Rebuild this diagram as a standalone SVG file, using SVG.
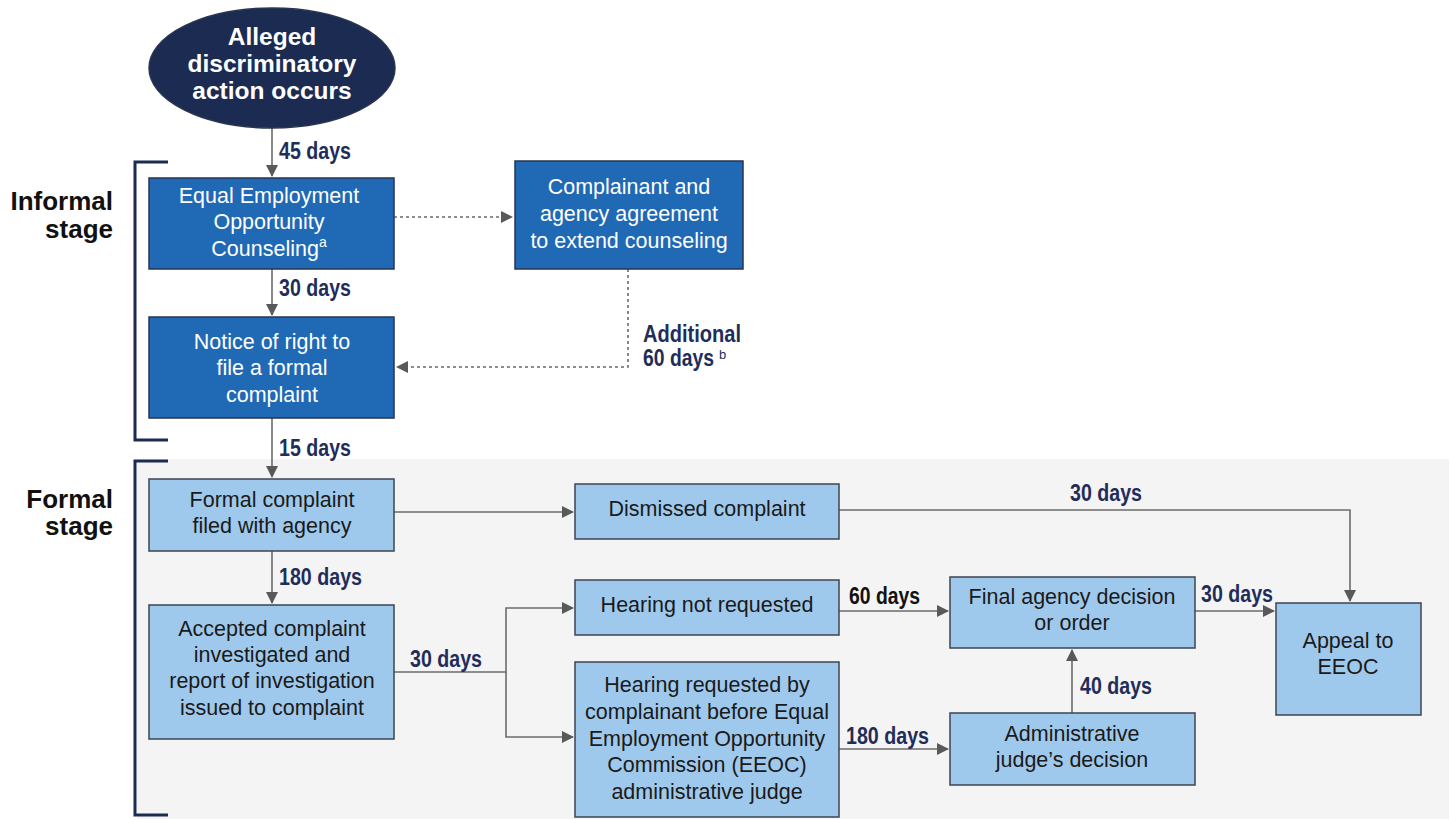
<svg xmlns="http://www.w3.org/2000/svg" width="1449" height="819" viewBox="0 0 1449 819">
<defs>
<marker id="ah" markerWidth="12" markerHeight="12" refX="11" refY="6" orient="auto" markerUnits="userSpaceOnUse">
<path d="M0,0 L12,6 L0,12 Z" fill="#595959"/>
</marker>
<style>
.dk{fill:#1f69b5;stroke:#2a3550;stroke-width:1.5}
.lt{fill:#9fc9ec;stroke:#3c4450;stroke-width:1.5}
.wt{font-family:"Liberation Sans",Arial,sans-serif;font-size:21.5px;fill:#fff;text-anchor:middle}
.bt{font-family:"Liberation Sans",Arial,sans-serif;font-size:21.5px;fill:#1a1a1a;text-anchor:middle}
.lb{font-family:"Liberation Sans Narrow","Liberation Sans",Arial,sans-serif;font-weight:bold;font-size:23px;fill:#1f2d5a}
.st{font-family:"Liberation Sans",Arial,sans-serif;font-weight:bold;font-size:26px;fill:#111;text-anchor:end}
.el{font-family:"Liberation Sans",Arial,sans-serif;font-weight:bold;font-size:24.5px;fill:#fff;text-anchor:middle}
.ln{fill:none;stroke:#6b6b6b;stroke-width:1.6}
.dt{fill:none;stroke:#6b6b6b;stroke-width:1.6;stroke-dasharray:3,3}
.br{fill:none;stroke:#1b2b52;stroke-width:3}
</style>
</defs>
<rect x="137" y="459" width="1312" height="360" fill="#f4f4f4"/>
<g id="brackets">
<path class="br" d="M168,162 H135 V440 H168"/>
<path class="br" d="M168,461 H135 V815 H168"/>
<text class="st" x="113" y="210">Informal</text>
<text class="st" x="113" y="238">stage</text>
<text class="st" x="113" y="508">Formal</text>
<text class="st" x="113" y="535">stage</text>
</g>
<g id="connectors">
<path class="ln" d="M272,128 V176" marker-end="url(#ah)"/>
<path class="ln" d="M272,269 V315" marker-end="url(#ah)"/>
<path class="ln" d="M272,418 V477" marker-end="url(#ah)"/>
<path class="ln" d="M272,551 V603" marker-end="url(#ah)"/>
<path class="dt" d="M394,217 H512" marker-end="url(#ah)"/>
<path class="dt" d="M628,269 V367 H397" marker-end="url(#ah)"/>
<path class="ln" d="M394,512 H573" marker-end="url(#ah)"/>
<path class="ln" d="M394,672 H506 V608 H573" marker-end="url(#ah)"/>
<path class="ln" d="M506,672 V737 H573" marker-end="url(#ah)"/>
<path class="ln" d="M839,510 H1350 V601" marker-end="url(#ah)"/>
<path class="ln" d="M839,611 H948" marker-end="url(#ah)"/>
<path class="ln" d="M839,749 H948" marker-end="url(#ah)"/>
<path class="ln" d="M1072,713 V650" marker-end="url(#ah)"/>
<path class="ln" d="M1195,611 H1274" marker-end="url(#ah)"/>
<text class="lb" x="279" y="159" textLength="72" lengthAdjust="spacingAndGlyphs">45 days</text>
<text class="lb" x="279" y="296" textLength="72" lengthAdjust="spacingAndGlyphs">30 days</text>
<text class="lb" x="279" y="456" textLength="72" lengthAdjust="spacingAndGlyphs">15 days</text>
<text class="lb" x="279" y="585" textLength="83" lengthAdjust="spacingAndGlyphs">180 days</text>
<text class="lb" x="410" y="667" textLength="72" lengthAdjust="spacingAndGlyphs">30 days</text>
<text class="lb" x="849" y="604" textLength="71" lengthAdjust="spacingAndGlyphs" style="fill:#111">60 days</text>
<text class="lb" x="846" y="744" textLength="83" lengthAdjust="spacingAndGlyphs">180 days</text>
<text class="lb" x="1080" y="694" textLength="72" lengthAdjust="spacingAndGlyphs">40 days</text>
<text class="lb" x="1201" y="602" textLength="72" lengthAdjust="spacingAndGlyphs">30 days</text>
<text class="lb" x="1070" y="501" textLength="72" lengthAdjust="spacingAndGlyphs">30 days</text>
<text class="lb" x="643" y="342" font-size="22" textLength="98" lengthAdjust="spacingAndGlyphs">Additional</text>
<text class="lb" x="643" y="366" font-size="22"><tspan textLength="71" lengthAdjust="spacingAndGlyphs">60 days</tspan><tspan dx="5" dy="-7" font-size="13" font-weight="normal">b</tspan></text>
</g>
<g id="start">
<ellipse cx="272" cy="68" rx="123" ry="60" fill="#1b2b52" stroke="#2a3550" stroke-width="1.5"/>
<text class="el" x="272" y="45">Alleged</text>
<text class="el" x="272" y="72">discriminatory</text>
<text class="el" x="272" y="99">action occurs</text>
</g>
<g id="counseling">
<rect class="dk" x="149" y="178" width="245" height="91"/>
<text class="wt" x="269" y="203">Equal Employment</text>
<text class="wt" x="269" y="229">Opportunity</text>
<text class="wt" x="269" y="256">Counseling<tspan font-size="14" dy="-9">a</tspan></text>
</g>
<g id="extend">
<rect class="dk" x="515" y="161" width="228" height="108"/>
<text class="wt" x="629" y="194">Complainant and</text>
<text class="wt" x="629" y="221">agency agreement</text>
<text class="wt" x="629" y="248">to extend counseling</text>
</g>
<g id="notice">
<rect class="dk" x="149" y="317" width="245" height="101"/>
<text class="wt" x="272" y="349">Notice of right to</text>
<text class="wt" x="272" y="375">file a formal</text>
<text class="wt" x="272" y="402">complaint</text>
</g>
<g id="formal">
<rect class="lt" x="149" y="479" width="245" height="72"/>
<text class="bt" x="272" y="507">Formal complaint</text>
<text class="bt" x="272" y="533">filed with agency</text>
</g>
<g id="accepted">
<rect class="lt" x="149" y="605" width="245" height="134"/>
<text class="bt" x="272" y="636">Accepted complaint</text>
<text class="bt" x="272" y="662">investigated and</text>
<text class="bt" x="272" y="688">report of investigation</text>
<text class="bt" x="272" y="715">issued to complaint</text>
</g>
<g id="dismissed">
<rect class="lt" x="575" y="484" width="264" height="55"/>
<text class="bt" x="707" y="516">Dismissed complaint</text>
</g>
<g id="notrequested">
<rect class="lt" x="575" y="580" width="264" height="55"/>
<text class="bt" x="707" y="612">Hearing not requested</text>
</g>
<g id="requested">
<rect class="lt" x="575" y="662" width="264" height="155"/>
<text class="bt" x="707" y="692">Hearing requested by</text>
<text class="bt" x="707" y="719">complainant before Equal</text>
<text class="bt" x="707" y="746">Employment Opportunity</text>
<text class="bt" x="707" y="772">Commission (EEOC)</text>
<text class="bt" x="707" y="799">administrative judge</text>
</g>
<g id="final">
<rect class="lt" x="950" y="577" width="245" height="71"/>
<text class="bt" x="1072" y="604">Final agency decision</text>
<text class="bt" x="1072" y="630">or order</text>
</g>
<g id="judge">
<rect class="lt" x="950" y="713" width="245" height="72"/>
<text class="bt" x="1072" y="741">Administrative</text>
<text class="bt" x="1072" y="767">judge’s decision</text>
</g>
<g id="appeal">
<rect class="lt" x="1276" y="603" width="145" height="112"/>
<text class="bt" x="1348" y="648">Appeal to</text>
<text class="bt" x="1348" y="674">EEOC</text>
</g>
</svg>
